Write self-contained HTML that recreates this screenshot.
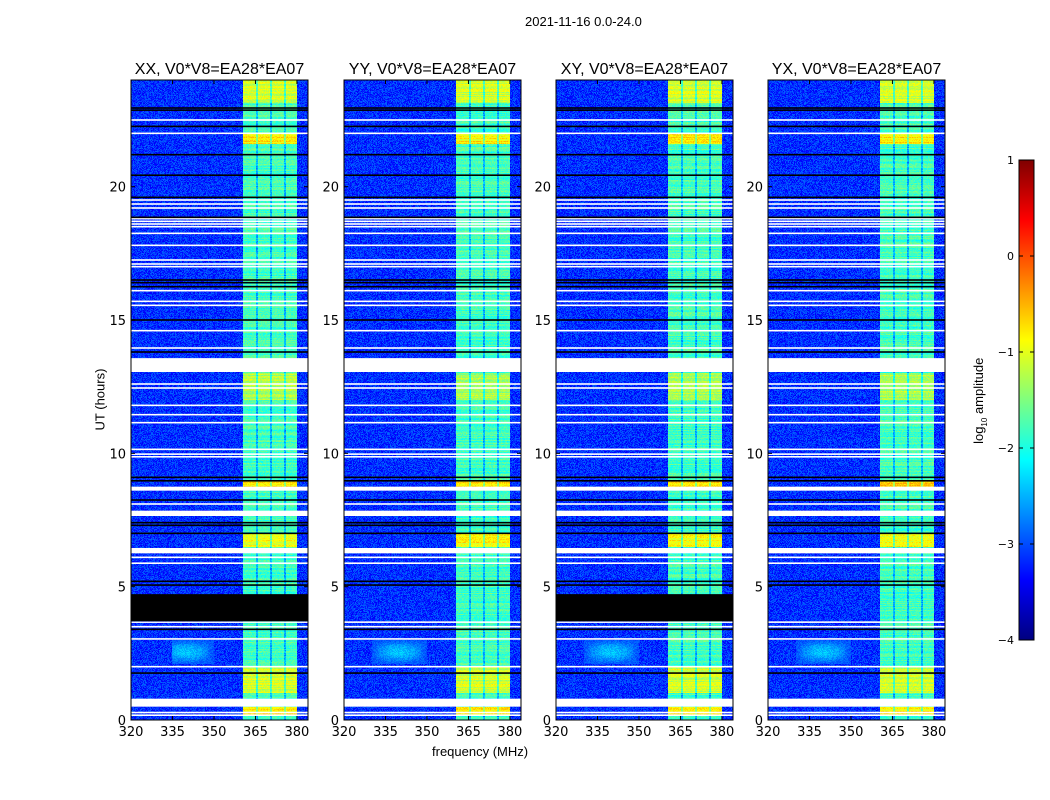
<!DOCTYPE html>
<html><head><meta charset="utf-8"><style>
body{margin:0;background:#fff;width:1050px;height:800px;overflow:hidden;font-family:"Liberation Sans",sans-serif;position:relative}
.t{position:absolute;font-size:13px;color:#000;white-space:nowrap}
canvas{position:absolute;image-rendering:pixelated}
svg{position:absolute;left:0;top:0}
</style></head><body>
<div class="t" style="left:525px;top:14px">2021-11-16 0.0-24.0</div>
<div class="t" style="left:432px;top:744px">frequency (MHz)</div>
<div class="t" style="left:50px;top:392px;transform:rotate(-90deg);transform-origin:center;width:100px;text-align:center">UT (hours)</div>
<div class="t" style="left:920px;top:392px;transform:rotate(-90deg);width:120px;text-align:center">log<sub style="font-size:8px">10</sub> amplitude</div>
<div id="root"></div>
<svg id="ov" width="1050" height="800"></svg>
<script>
const panelNames=["XX, V0*V8=EA28*EA07","YY, V0*V8=EA28*EA07","XY, V0*V8=EA28*EA07","YX, V0*V8=EA28*EA07"];
const panelLeft=[131,344,556,768];
const freqTicks=[320,335,350,365,380];
const timeTicks=[0,5,10,15,20];
const cbTicks=[1,0,-1,-2,-3,-4];
const rfiBands=[[360.5,365.2],[366,370.3],[371,375.3],[376,380]];
const brightRows=[[0.2,0.5,-0.8],[1.0,2.0,-1.1],[6.5,7.0,-0.9],[8.75,8.95,-0.7],[12.0,13.0,-1.3],[21.6,22.0,-0.8],[23.15,24,-1.1]];
const bandDefault=-1.8, bgLevel=-3.15;
const whiteBlocks=[[0.5,0.8],[6.25,6.45],[7.65,7.85],[8.6,8.75],[13.05,13.57]];
const whiteLines=[0.18,0.28,2.0,3.04,3.5,3.67,5.88,6.1,8.1,9.87,9.97,10.15,11.15,11.45,11.8,12.45,12.6,13.95,14.6,15.55,15.7,16.1,17.0,17.1,17.25,17.8,18.25,18.5,18.6,18.7,18.8,19.2,19.35,19.5,22.0,22.5];
const blackLines=[1.76,3.4,5.06,5.2,7.0,7.3,7.4,8.25,8.97,9.1,13.8,15.0,16.25,16.4,16.5,18.85,19.6,20.43,21.2,22.26,22.87,22.95];
const blackBlockPanels=[true,false,true,false];
const blackBlock=[3.7,4.72];
const W=177,H=640,top0=80,fMin=320,fMax=384,tMax=24;
const fx=f=>(f-fMin)/(fMax-fMin)*W, ty=t=>H-t/tMax*H;
function jet(v){let x=(v+4)/5;x=Math.max(0,Math.min(1,x));
 const r=Math.min(1,Math.max(0,1.5-Math.abs(4*x-3))),g=Math.min(1,Math.max(0,1.5-Math.abs(4*x-2))),b=Math.min(1,Math.max(0,1.5-Math.abs(4*x-1)));return[r*255,g*255,b*255];}
function hash(a,b,c){let h=(a*374761393+b*668265263+c*2147483647)|0;h=(h^(h>>>13))*1274126177;h=h^(h>>>16);return (h>>>0)/4294967296;}
const root=document.getElementById('root'),ov=document.getElementById('ov');
let svg='';
panelLeft.forEach((L,p)=>{
 const cv=document.createElement('canvas');cv.width=W;cv.height=H;cv.style.left=L+'px';cv.style.top=top0+'px';
 
 
 root.appendChild(cv);
 const ctx=cv.getContext('2d'),img=ctx.createImageData(W,H),d=img.data;
 for(let y=0;y<H;y++){const t=(H-y-0.5)/H*tMax;
  let rowB=bandDefault;brightRows.forEach(r=>{if(t>=r[0]&&t<r[1])rowB=r[2];});
  const rowN=(hash(y,p,7)-0.5)*0.4;
  for(let x=0;x<W;x++){const f=fMin+(x+0.5)/W*(fMax-fMin);
   let v=bgLevel,inB=false,near=false;
   rfiBands.forEach(b=>{if(f>=b[0]&&f<b[1])inB=true;});
   if(!inB&&f>=360.5&&f<380)near=true;
   if(inB)v=rowB+rowN+(hash(x,y,p+1)-0.5)*0.35;
   else if(near)v=rowB-0.7+rowN+(hash(x,y,p+1)-0.5)*0.35;
   else v+= (hash(x,y,p+1)-0.5)*0.55;
   if(t>2.1&&t<3.0&&f>(p===0?335:330)&&f<350){const k=Math.sin((f-330)/20*Math.PI)*Math.sin((t-2.1)/0.9*Math.PI);v=Math.max(v,-3.0+0.6*k+(hash(x,y,9)-0.5)*0.3);}
   const c=jet(v),i=(y*W+x)*4;d[i]=c[0];d[i+1]=c[1];d[i+2]=c[2];d[i+3]=255;}}
 ctx.putImageData(img,0,0);
 ctx.fillStyle='#fff';
 whiteBlocks.forEach(b=>ctx.fillRect(0,ty(b[1]),W,ty(b[0])-ty(b[1])));
 whiteLines.forEach(t=>ctx.fillRect(0,ty(t)-0.8,W,1.6));
 ctx.fillStyle='#000';
 blackLines.forEach(t=>ctx.fillRect(0,ty(t)-0.8,W,1.6));
 if(blackBlockPanels[p])ctx.fillRect(0,ty(blackBlock[1]),W,ty(blackBlock[0])-ty(blackBlock[1]));
 svg+=`<text x="${L+W/2}" y="74" font-size="16" text-anchor="middle" font-family="Liberation Sans">${panelNames[p]}</text>`;
 svg+=`<rect x="${L}" y="${top0}" width="${W}" height="${H}" fill="none" stroke="#000" stroke-width="1"/>`;
 freqTicks.forEach(f=>{const X=L+fx(f);svg+=`<line x1="${X}" y1="${top0+H}" x2="${X}" y2="${top0+H-4}" stroke="#000"/><line x1="${X}" y1="${top0}" x2="${X}" y2="${top0+4}" stroke="#000"/><text x="${X}" y="736" font-size="13" text-anchor="middle" font-family="DejaVu Sans">${f}</text>`;});
 timeTicks.forEach(t=>{const Y=top0+ty(t);svg+=`<line x1="${L}" y1="${Y}" x2="${L+4}" y2="${Y}" stroke="#000"/><line x1="${L+W}" y1="${Y}" x2="${L+W-4}" y2="${Y}" stroke="#000"/><text x="${L-5}" y="${Y+5}" font-size="13" text-anchor="end" font-family="DejaVu Sans">${t}</text>`;});
});
const cbX=1019,cbY=160,cbW=15,cbH=480;
const cb=document.createElement('canvas');cb.width=1;cb.height=cbH;cb.style.left=cbX+'px';cb.style.top=cbY+'px';cb.style.width=cbW+'px';cb.style.height=cbH+'px';


root.appendChild(cb);
const cc=cb.getContext('2d');for(let y=0;y<cbH;y++){const c=jet(1-5*(y+0.5)/cbH);cc.fillStyle=`rgb(${c[0]|0},${c[1]|0},${c[2]|0})`;cc.fillRect(0,y,1,1);}
svg+=`<rect x="${cbX}" y="${cbY}" width="${cbW}" height="${cbH}" fill="none" stroke="#000"/>`;
cbTicks.forEach(v=>{const Y=cbY+(1-v)/5*cbH;svg+=`<line x1="${cbX}" y1="${Y}" x2="${cbX+4}" y2="${Y}" stroke="#000"/><line x1="${cbX+cbW}" y1="${Y}" x2="${cbX+cbW-4}" y2="${Y}" stroke="#000"/><text x="${cbX-5}" y="${Y+4}" font-size="11" text-anchor="end" font-family="DejaVu Sans">${v<0?'−'+(-v):v}</text>`;});
ov.innerHTML=svg;
</script>
</body></html>
